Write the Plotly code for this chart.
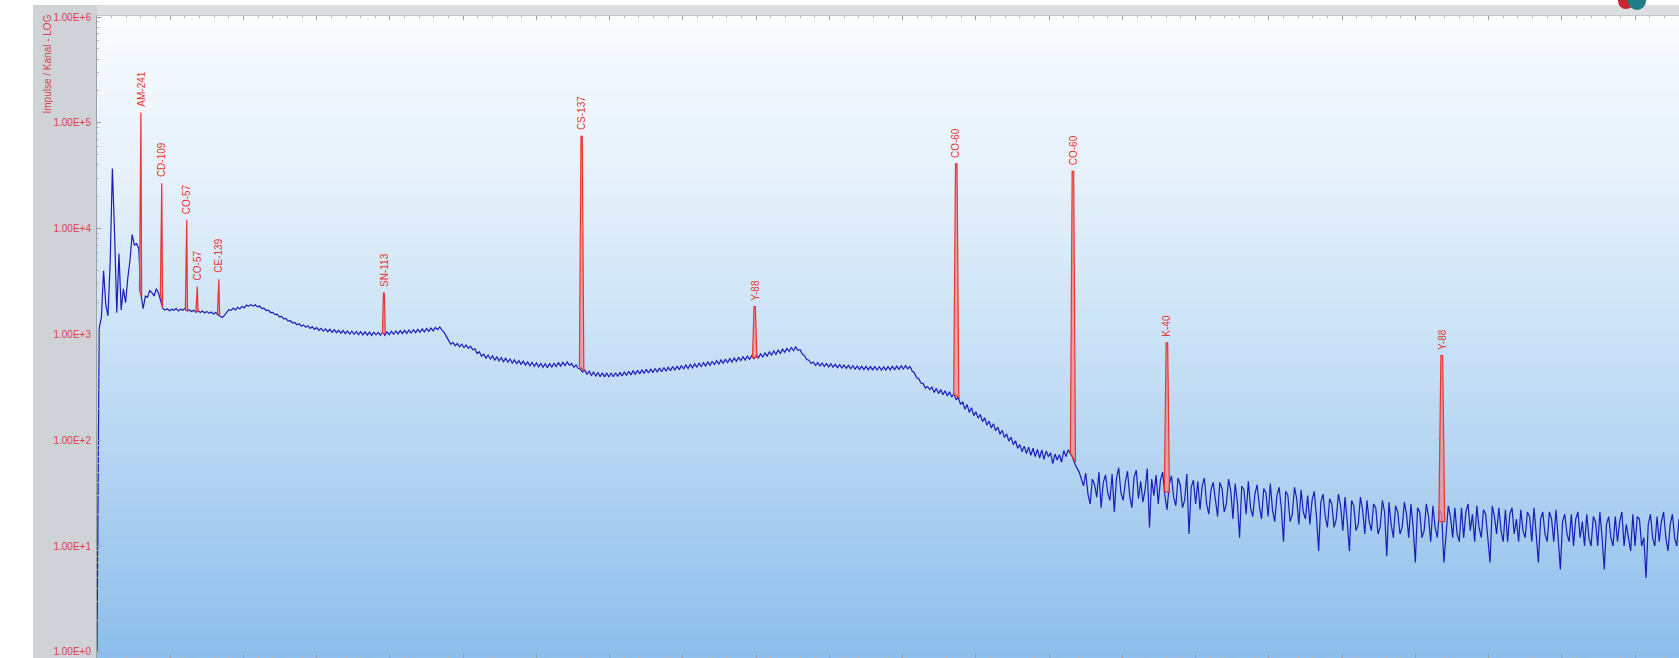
import numpy as np
import plotly.graph_objects as go

# ---------------------------------------------------------------------------
# Gamma spectrum, counts per channel (3 keV per channel, channel 0 = 0 keV)
# ---------------------------------------------------------------------------
KEV_PER_CHANNEL = 3.0

counts_low = [
    1, 1150, 1450, 4000, 1900, 1500, 4800, 37000, 9000, 1600,
    5800, 1700, 2700, 2000, 3400, 5000, 8800, 7000, 7200, 6500,
    2400, 1750, 2300, 2250, 2600, 2480, 2310, 2700, 2450, 2050,
]

counts_mid = [
    1750, 1702, 1748, 1671, 1733, 1689, 1760, 1664, 1729, 1695,
    1768, 1672, 1701, 1648, 1690, 1625, 1682, 1611, 1664, 1597,
    1650, 1583, 1627, 1561, 1612, 1534, 1479, 1448, 1512, 1590,
    1712, 1689, 1771, 1706, 1802, 1741, 1846, 1779, 1893, 1842,
    1917, 1851, 1908, 1822, 1854, 1751, 1772, 1683, 1694, 1611,
    1618, 1541, 1556, 1466, 1482, 1402, 1417, 1338, 1349, 1282,
    1297, 1233, 1262, 1196, 1230, 1168, 1209, 1142, 1181, 1118,
    1162, 1094, 1141, 1073, 1129, 1061, 1118, 1049, 1107, 1039,
    1098, 1027, 1089, 1016, 1080, 1009, 1074, 1002, 1066, 994,
    1061, 989, 1058, 985, 1052, 979, 1049, 990, 1046, 983,
    1054, 982, 1061, 996, 1072, 1003, 1079, 1011, 1086, 1018,
    1094, 1024, 1101, 1032, 1109, 1041, 1118, 1049, 1128, 1057,
    1138, 1068, 1150, 1081, 1164, 1109, 1176, 1098, 1046, 958,
    872, 806, 842, 781, 821, 764, 809, 752, 793, 738,
    774, 716, 731, 661, 686, 622, 651, 598, 639, 586,
    627, 572, 614, 563, 603, 552, 595, 546, 585, 537,
    574, 529, 566, 521, 558, 513, 551, 506, 545, 499,
    538, 494, 532, 489, 528, 486, 529, 492, 534, 497,
    540, 503, 545, 508, 549, 510, 531, 489, 514, 478,
    470, 441, 462, 418, 449, 410, 441, 404, 436, 399,
    433, 397, 430, 396, 432, 398, 435, 401, 438, 405,
    443, 409, 449, 414, 455, 419, 459, 424, 463, 428,
    468, 432, 472, 436, 476, 440, 481, 444, 486, 449,
    491, 454, 497, 459, 503, 465, 509, 471, 515, 477,
    521, 483, 528, 489, 535, 496, 542, 503, 550, 510,
    558, 517, 566, 525, 574, 533, 582, 541, 590, 549,
    599, 557, 607, 565, 616, 573, 624, 581, 632, 590,
    641, 601, 654, 612, 668, 624, 683, 637, 697, 650,
    711, 664, 725, 677, 738, 690, 752, 702, 761, 708,
    716, 652, 631, 580, 571, 531, 549, 508, 541, 503,
    536, 498, 531, 494, 527, 490, 522, 486, 518, 482,
    514, 478, 510, 474, 506, 470, 503, 467, 500, 465,
    499, 463, 497, 462, 496, 461, 495, 460, 494, 460,
    496, 462, 499, 465, 502, 468, 505, 471, 508, 474,
    497, 451, 433, 392, 381, 347, 343, 311, 322, 301,
    318, 283, 309, 276, 301, 269, 294, 262, 287, 256,
    276, 241, 255, 218, 231, 196, 218, 183, 203, 171,
    186, 162, 175, 150, 163, 139, 152, 131, 143, 123,
    133, 114, 124, 106, 115, 98, 107, 91, 99, 84,
    91, 78, 88, 75, 86, 72, 84, 70, 82, 68,
    81, 66, 79, 70, 76, 60, 74, 65, 73, 62,
    80, 70, 81, 74, 69, 60, 55, 50, 43, 37,
]

counts_high = [
    49, 31, 25, 43, 38, 29, 50, 23, 40, 47,
    32, 27, 48, 21, 44, 55, 32, 27, 40, 51,
    30, 23, 45, 52, 28, 41, 26, 34, 54, 15,
    43, 30, 47, 25, 42, 50, 30, 22, 38, 46,
    29, 24, 44, 38, 23, 27, 48, 13, 36, 42,
    25, 41, 22, 37, 44, 25, 20, 34, 40, 27,
    19, 40, 35, 21, 25, 43, 33, 18, 39, 26,
    12, 37, 34, 20, 41, 23, 19, 31, 38, 24,
    18, 35, 32, 19, 39, 22, 17, 30, 36, 23,
    11, 33, 30, 17, 20, 36, 28, 16, 34, 21,
    18, 30, 16, 27, 33, 19, 9, 26, 31, 19,
    15, 28, 25, 15, 18, 31, 24, 14, 29, 17,
    9, 27, 24, 14, 16, 29, 22, 13, 27, 17,
    14, 25, 23, 13, 15, 27, 21, 8, 26, 16,
    12, 24, 21, 13, 15, 26, 20, 12, 25, 15,
    7, 23, 21, 12, 14, 25, 19, 11, 24, 15,
    12, 22, 20, 7, 14, 24, 19, 12, 23, 13,
    11, 23, 12, 21, 25, 14, 20, 11, 24, 15,
    12, 22, 20, 12, 7, 24, 19, 13, 23, 14,
    11, 22, 11, 20, 23, 13, 18, 11, 22, 14,
    12, 21, 19, 11, 23, 13, 7, 18, 21, 13,
    11, 21, 18, 11, 22, 12, 6, 17, 20, 13,
    11, 20, 10, 18, 21, 12, 17, 10, 20, 12,
    10, 19, 17, 10, 21, 12, 6, 16, 19, 12,
    10, 19, 11, 17, 21, 10, 16, 12, 9, 20,
    10, 19, 18, 10, 12, 5, 16, 20, 12, 10,
    19, 11, 17, 21, 12, 9, 16, 20, 12, 10,
    18, 12,
]

counts = counts_low + counts_mid + counts_high
channel_energy = np.arange(len(counts)) * KEV_PER_CHANNEL

# ---------------------------------------------------------------------------
# Identified nuclide peaks (regions of interest)
# ---------------------------------------------------------------------------
peak_labels = ["AM-241", "CD-109", "CO-57", "CO-57", "CE-139", "SN-113",
               "CS-137", "Y-88", "CO-60", "CO-60", "K-40", "Y-88"]
peak_energy = [59.5, 88.0, 122.1, 136.5, 165.9, 391.7,
               661.7, 898.0, 1173.2, 1332.5, 1460.8, 1836.1]
peak_top = [125000, 26900, 12100, 2840, 3330, 2460,
            74300, 1835, 41000, 34800, 834, 630]
peak_base_left = [2600, 2450, 1700, 1640, 1560, 1020,
                  500, 600, 270, 76, 33, 17]
peak_base_right = [2300, 1800, 1660, 1640, 1540, 1020,
                   450, 610, 255, 62, 32, 17]
peak_halfwidth = [1.5, 1.5, 1.5, 1.5, 1.5, 2.0,
                  3.0, 3.0, 3.5, 3.5, 3.5, 4.0]

# Axis ticks
ytick_values = [1, 10, 100, 1000, 10000, 100000, 1000000]
ytick_labels = ["1.00E+0", "1.00E+1", "1.00E+2", "1.00E+3",
                "1.00E+4", "1.00E+5", "1.00E+6"]

# ---------------------------------------------------------------------------
# Figure geometry
# ---------------------------------------------------------------------------
W, H = 1679, 658
ML, MT = 97, 16
PW, PH = W - ML, H - MT
X_RANGE = [0, 2160]
Y_RANGE = [-0.058, 6.0095]

RED_TEXT = "#d9434f"
PEAK_RED = "#e8352f"
FONT = "Arial, Liberation Sans, sans-serif"

fig = go.Figure()

# spectrum continuum
fig.add_trace(go.Scatter(
    x=channel_energy, y=counts, mode="lines",
    line=dict(color="#1c1cb8", width=1.2),
    hoverinfo="skip", showlegend=False,
))

# peaks, drawn as narrow filled outlines on top of the spectrum
for e, top, bl, br, hw in zip(peak_energy, peak_top, peak_base_left,
                              peak_base_right, peak_halfwidth):
    fig.add_trace(go.Scatter(
        x=[e - hw, e - 0.3 * hw, e + 0.3 * hw, e + hw, e - hw],
        y=[bl, top, top, br, bl],
        mode="lines", fill="toself",
        fillcolor="rgba(240,140,140,0.75)",
        line=dict(color=PEAK_RED, width=1.2),
        hoverinfo="skip", showlegend=False,
    ))

annotations = []
for lab, e, top in zip(peak_labels, peak_energy, peak_top):
    annotations.append(dict(
        x=e, y=np.log10(top), xref="x", yref="y",
        text=lab, showarrow=False, textangle=-90,
        xanchor="center", yanchor="bottom", yshift=4,
        font=dict(family=FONT, size=10, color=PEAK_RED),
    ))

# vertical axis caption in the grey side panel
annotations.append(dict(
    x=(47 - ML) / PW, y=1 + (MT - 13) / PH, xref="paper", yref="paper",
    text="Impulse / Kanal - LOG", showarrow=False, textangle=-90,
    xanchor="center", yanchor="top",
    font=dict(family=FONT, size=10, color=RED_TEXT),
))

# background: vertical white-to-blue gradient in the plot area
shapes = []
stops = [(0.0, (250, 252, 254)), (0.25, (230, 241, 251)),
         (0.5, (203, 226, 246)), (0.75, (173, 208, 240)),
         (1.0, (140, 190, 236))]
n_bands = 90
for i in range(n_bands):
    f = (i + 0.5) / n_bands
    for (f0, c0), (f1, c1) in zip(stops[:-1], stops[1:]):
        if f0 <= f <= f1:
            t = (f - f0) / (f1 - f0)
            c = tuple(int(round(a + (b - a) * t)) for a, b in zip(c0, c1))
            break
    shapes.append(dict(
        type="rect", xref="paper", yref="paper",
        x0=0, x1=1, y0=1 - (i + 1) / n_bands, y1=1 - i / n_bands + 0.001,
        fillcolor="rgb(%d,%d,%d)" % c, line=dict(width=0), layer="below",
    ))

# grey side panel and top strip of the application window
shapes.append(dict(
    type="rect", xref="paper", yref="paper",
    x0=(33 - ML) / PW, x1=0, y0=0, y1=1 + (MT - 5) / PH,
    fillcolor="#cfd2d6", line=dict(width=0), layer="below",
))
shapes.append(dict(
    type="rect", xref="paper", yref="paper",
    x0=0, x1=1, y0=1, y1=1 + (MT - 5) / PH,
    fillcolor="#dcdee2", line=dict(width=0), layer="below",
))
# corner logo
shapes.append(dict(
    type="circle", xref="paper", yref="paper",
    x0=(1618 - ML) / PW, x1=(1634 - ML) / PW,
    y0=1 + (MT - 9) / PH, y1=1 + (MT + 7) / PH,
    fillcolor="#c8262c", line=dict(width=0), layer="above",
))
shapes.append(dict(
    type="circle", xref="paper", yref="paper",
    x0=(1628 - ML) / PW, x1=(1646 - ML) / PW,
    y0=1 + (MT - 10) / PH, y1=1 + (MT + 8) / PH,
    fillcolor="#1f7d86", line=dict(width=0), layer="above",
))
shapes.append(dict(
    type="rect", xref="paper", yref="paper",
    x0=(1610 - ML) / PW, x1=1.0,
    y0=1 + (MT + 0.5) / PH, y1=1 + (MT + 20) / PH,
    fillcolor="white", line=dict(width=0), layer="above",
))

minor_y = [m * 10 ** k for k in range(0, 6) for m in range(2, 10)]

fig.update_layout(
    width=W, height=H,
    margin=dict(l=ML, r=0, t=MT, b=0, pad=0),
    paper_bgcolor="white",
    plot_bgcolor="rgba(0,0,0,0)",
    showlegend=False,
    font=dict(family=FONT, size=10, color=RED_TEXT),
    xaxis=dict(
        range=X_RANGE, showgrid=False, zeroline=False,
        showticklabels=False, ticks="inside", tick0=0, dtick=100,
        ticklen=4, tickcolor="#9ca1a6", tickwidth=1,
        minor=dict(dtick=20, ticks="inside", ticklen=2,
                   tickcolor="#b4b8bc", showgrid=False),
        showline=True, linecolor="#c3c7cb", linewidth=1, mirror="ticks",
    ),
    yaxis=dict(
        type="log", range=Y_RANGE, showgrid=False, zeroline=False,
        tickmode="array", tickvals=ytick_values, ticktext=ytick_labels,
        tickfont=dict(family=FONT, size=10, color=RED_TEXT),
        ticks="inside", ticklen=4, tickcolor="#9ca1a6",
        minor=dict(tickmode="array", tickvals=minor_y, ticks="inside",
                   ticklen=2, tickcolor="#b4b8bc", showgrid=False),
        showline=True, linecolor="#9ca1a6", linewidth=1,
        ticklabelstandoff=3,
    ),
    annotations=annotations,
    shapes=shapes,
)

fig.write_html("out.html")
